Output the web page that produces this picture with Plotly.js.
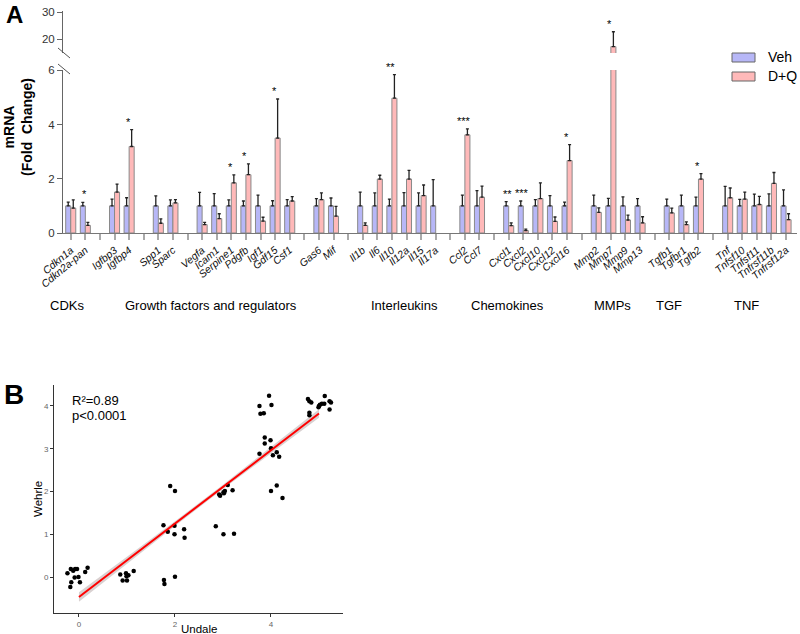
<!DOCTYPE html>
<html><head><meta charset="utf-8">
<script src="https://cdn.plot.ly/plotly-3.0.1.min.js"></script>
<style>body{margin:0;background:#fff}#chart{width:800px;height:634px}</style>
</head><body><div id="chart"></div>
<script>
// ---------- Panel A data ----------
const geneBlocks = [
  ['Cdkn1a','Cdkn2a-pan'],
  ['Igfbp3','Igfbp4'],
  ['Spp1','Sparc'],
  ['Vegfa','Icam1','Serpine1','Pdgfb','Igf1','Gdf15','Csf1'],
  ['Gas6','Mif'],
  ['Il1b','Il6','Il10','Il12a','Il15','Il17a'],
  ['Ccl2','Ccl7'],
  ['Cxcl1','Cxcl2','Cxcl10','Cxcl12','Cxcl16'],
  ['Mmp2','Mmp7','Mmp9','Mmp13'],
  ['Tgfb1','Tgfbr1','Tgfb2'],
  ['Tnf','Tnfsf10','Tnfsf11','Tnfrsf11b','Tnfrsf12a']
];
const groupNames = ['CDKs','Growth factors and regulators','Interleukins','Chemokines','MMPs','TGF','TNF'];

const vehMean = [1,1, 1,1, 1,1, 1,1,1,1,1,1,1, 1,1, 1,1,1,1,1,1, 1,1, 1,1,1,1,1, 1,1,1,1, 1,1,1, 1,1,1,1,1];
const vehErr  = [0.14,0.13, 0.25,0.30, 0.37,0.22, 0.50,0.45,0.22,0.18,0.40,0.19,0.23, 0.27,0.29,
                 0.51,0.48,0.25,0.49,0.48,0.97, 0.40,0.56, 0.16,0.18,0.23,0.38,0.14,
                 0.40,0.28,0.33,0.27, 0.25,0.40,0.32, 0.72,0.24,0.43,0.44,0.59];
const dqMean  = [0.92,0.28, 1.51,3.19, 0.36,1.11, 0.31,0.53,1.85,2.15,0.44,3.50,1.18, 1.23,0.62,
                 0.28,1.99,4.97,1.99,1.38,null, 3.62,1.32, 0.27,0.09,1.27,0.43,2.67,
                 0.76,17.3,0.48,0.37, 0.74,0.31,1.99, 1.30,1.25,1.05,1.83,0.49];
const dqErr   = [0.30,0.11, 0.29,0.62, 0.16,0.12, 0.08,0.18,0.29,0.40,0.14,1.44,0.16, 0.25,0.36,
                 0.09,0.14,0.87,0.32,0.39,null, 0.22,0.41, 0.10,0.05,0.58,0.16,0.59,
                 0.17,5.5,0.18,0.23, 0.18,0.10,0.20, 0.36,0.26,0.30,0.40,0.22];
const stars   = ['','*', '','*', '','', '','','*','*','','*','', '','',
                 '','','**','','','', '***','', '**','***','','','*',
                 '','*','','', '','','*', '','','','',''];

// ---------- Panel B data (jittered scores as drawn) ----------
const undale = [-0.24,-0.17,-0.12,-0.08,-0.04,-0.09,-0.01,-0.16,-0.18,0.02,0.13,0.18,
  0.86,0.98,0.99,1.03,0.91,1.00,1.14,
  1.76,1.85,1.99,1.99,2.19,2.20,1.90,2.00,1.77,1.78,2.00,
  2.85,3.01,3.23,2.92,2.94,3.01,3.04,3.02,3.10,3.20,
  3.76,3.78,3.85,3.96,4.01,3.87,3.87,3.99,3.76,4.00,4.04,4.12,4.17,4.00,4.12,4.24,
  4.77,4.80,4.84,4.80,4.80,4.99,5.02,5.06,5.11,5.12,5.00,5.22,5.25,5.22];
const wehrle = [0.09,0.19,0.15,0.19,0.19,-0.01,0.00,-0.12,-0.23,-0.12,0.12,0.22,
  0.06,0.09,0.02,0.04,-0.08,-0.08,0.14,
  1.21,1.06,1.20,1.00,1.12,0.92,2.13,2.01,-0.07,-0.16,0.01,
  1.19,1.00,1.01,1.93,1.90,1.98,2.01,1.96,2.15,2.03,
  4.00,3.82,3.83,4.24,4.02,3.26,3.12,3.20,2.88,3.01,2.85,2.92,2.81,2.01,2.14,1.85,
  4.16,4.11,4.08,3.84,3.78,3.97,4.03,4.05,4.05,4.23,4.00,4.11,4.08,3.92];
const bandX    = [0,1,2,3,4,5];
const bandHalf = [0.11,0.08,0.055,0.05,0.07,0.10];
const statText = ['R²=0.89','p<0.0001'];

// ---------- build slots ----------
const slots=[], slotLabels=[], vY=[], vE=[], dY=[], dE=[], zeros=[], slotStar=[];
let gi=0;
geneBlocks.forEach((blk,bi)=>{
  if(bi>0){slots.push('gap'+bi);slotLabels.push('');vY.push(null);vE.push(null);dY.push(null);dE.push(null);zeros.push(0);slotStar.push('');}
  blk.forEach(name=>{
    slots.push(name);slotLabels.push(name);
    vY.push(vehMean[gi]);vE.push(vehErr[gi]);dY.push(dqMean[gi]);dE.push(dqErr[gi]);zeros.push(0);slotStar.push(stars[gi]);
    gi++;
  });
});

const W=800,H=634;
const px=v=>v/W, py=v=>1-v/H;
const lowTop=6.01;
const vehCol='#b7b7f7', dqCol='#ffb9b9', edge='#8a8a8a';
const errStyle=(arr)=>({type:'data',array:arr,arrayminus:zeros,symmetric:false,color:'#222',thickness:1.3,width:1.5});

const traces=[];
['y','y2'].forEach(ya=>{
  traces.push({type:'bar',name:'Veh',x:slots,y:vY,xaxis:'x',yaxis:ya,marker:{color:vehCol,line:{color:edge,width:1}},error_y:errStyle(vE),showlegend:false,hoverinfo:'skip'});
  traces.push({type:'bar',name:'D+Q',x:slots,y:dY,xaxis:'x',yaxis:ya,marker:{color:dqCol,line:{color:edge,width:1}},error_y:errStyle(dE),showlegend:false,hoverinfo:'skip'});
});

// regression on the underlying integer scores
const xs=undale.map(Math.round), ys=wehrle.map(Math.round);
const n=xs.length, xm=xs.reduce((a,b)=>a+b,0)/n, ym=ys.reduce((a,b)=>a+b,0)/n;
let sxy=0,sxx=0; for(let i=0;i<n;i++){sxy+=(xs[i]-xm)*(ys[i]-ym);sxx+=(xs[i]-xm)**2;}
const slope=sxy/sxx, icpt=ym-slope*xm;
const fitY=bandX.map(x=>icpt+slope*x);
const upper=bandX.map((x,i)=>fitY[i]+bandHalf[i]), lower=bandX.map((x,i)=>fitY[i]-bandHalf[i]);
traces.push({type:'scatter',mode:'lines',x:bandX.concat(bandX.slice().reverse()),y:upper.concat(lower.slice().reverse()),fill:'toself',fillcolor:'rgba(160,140,140,0.4)',line:{width:0},xaxis:'x3',yaxis:'y3',showlegend:false,hoverinfo:'skip'});
traces.push({type:'scatter',mode:'markers',x:undale,y:wehrle,marker:{color:'#000',size:4.5},xaxis:'x3',yaxis:'y3',showlegend:false,hoverinfo:'skip'});
traces.push({type:'scatter',mode:'lines',x:[bandX[0],bandX[bandX.length-1]],y:[fitY[0],fitY[fitY.length-1]],line:{color:'#ff0000',width:2},xaxis:'x3',yaxis:'y3',showlegend:false,hoverinfo:'skip'});

const font='Liberation Sans, Arial, sans-serif';
const ann=[];
const P=(text,x,y,opt)=>Object.assign({text,x:px(x),y:py(y),xref:'paper',yref:'paper',xanchor:'center',yanchor:'middle',showarrow:false},opt||{});
ann.push(P('<b>A</b>',14,14.5,{font:{size:24,color:'#000'},borderpad:0}));
ann.push(P('<b>B</b>',14,394,{font:{size:28,color:'#000'}}));
ann.push(P('<b>mRNA</b><br><b>(Fold  Change)</b>',18,127,{textangle:-90,font:{size:14,color:'#000'}}));
const groupPx=[67,211,404,507,612,669,746];
groupNames.forEach((g,i)=>ann.push(P(g,groupPx[i],305,{font:{size:13,color:'#000'}})));
// stars
slots.forEach((s,i)=>{
  if(!slotStar[i]) return;
  const top=Math.max((vY[i]||0)+(vE[i]||0),(dY[i]||0)+(dE[i]||0));
  ann.push({text:slotStar[i],x:s,y:top,xref:'x',yref: top>lowTop?'y2':'y',xanchor:'center',showarrow:false,yanchor:'bottom',xshift:-1,yshift:0,font:{size:11,color:'#000'}});
});
// legend
ann.push(P('Veh',766,57.5,{xanchor:'left',font:{size:14,color:'#000'}}));
ann.push(P('D+Q',766,76,{xanchor:'left',font:{size:14,color:'#000'}}));
// stats
statText.forEach((t,i)=>ann.push(P(t,70,400+i*15,{xanchor:'left',font:{size:13,color:'#000'}})));
// panel B axis titles
ann.push(P('Undale',199,629,{font:{size:11.5,color:'#000'}}));
ann.push(P('Wehrle',38,499,{textangle:-90,font:{size:11.5,color:'#000'}}));

const shapes=[
  {type:'line',xref:'paper',yref:'paper',x0:px(58),y0:py(48),x1:px(70),y1:py(58),line:{color:'#555',width:1}},
  {type:'line',xref:'paper',yref:'paper',x0:px(58),y0:py(64),x1:px(70),y1:py(74),line:{color:'#555',width:1}},
  {type:'rect',xref:'paper',yref:'paper',x0:px(732),y0:py(53),x1:px(755),y1:py(62),fillcolor:vehCol,line:{color:'#666',width:1}},
  {type:'rect',xref:'paper',yref:'paper',x0:px(732),y0:py(72),x1:px(755),y1:py(81),fillcolor:dqCol,line:{color:'#666',width:1}}
];

const yCommon={showgrid:false,zeroline:false,showline:true,linecolor:'#666',linewidth:1,ticks:'outside',ticklen:5,tickcolor:'#666',tickfont:{size:11.5,color:'#333'},fixedrange:true};
const layout={
  width:W,height:H,margin:{l:0,r:0,t:0,b:0},paper_bgcolor:'#fff',plot_bgcolor:'rgba(0,0,0,0)',
  font:{family:font,color:'#000'},showlegend:false,barmode:'group',bargap:0.31,bargroupgap:0,
  xaxis:{domain:[px(63),px(797)],anchor:'y',type:'category',categoryorder:'array',categoryarray:slots,range:[-0.53,49.75],
    tickmode:'array',tickvals:slots,ticktext:slotLabels,tickangle:-40,tickfont:{size:10.5,style:'italic',color:'#111'},
    ticks:'outside',ticklen:6,tickwidth:2,tickcolor:'#aaa',showline:true,linecolor:'#777',linewidth:1,showgrid:false,zeroline:false,fixedrange:true},
  yaxis:Object.assign({domain:[py(233),py(70)],anchor:'x',range:[0,lowTop],tickvals:[0,2,4,6]},yCommon),
  yaxis2:Object.assign({domain:[py(53),py(11)],anchor:'x',range:[14.93,30.48],tickvals:[20,30]},yCommon),
  xaxis3:{domain:[px(54),px(343)],anchor:'y3',range:[-0.52,5.5],tickvals:[0,2,4],showgrid:false,zeroline:false,showline:true,linecolor:'#333',linewidth:1,
    ticks:'outside',ticklen:3,tickcolor:'#333',tickfont:{size:8,color:'#666'},fixedrange:true},
  yaxis3:{domain:[py(613),py(385)],anchor:'x3',range:[-0.84,4.49],tickvals:[0,1,2,3,4],showgrid:false,zeroline:false,showline:true,linecolor:'#333',linewidth:1,
    ticks:'outside',ticklen:3,tickcolor:'#333',tickfont:{size:8,color:'#666'},fixedrange:true},
  annotations:ann,shapes:shapes
};
Plotly.newPlot('chart',traces,layout,{staticPlot:true,displayModeBar:false});
</script></body></html>
